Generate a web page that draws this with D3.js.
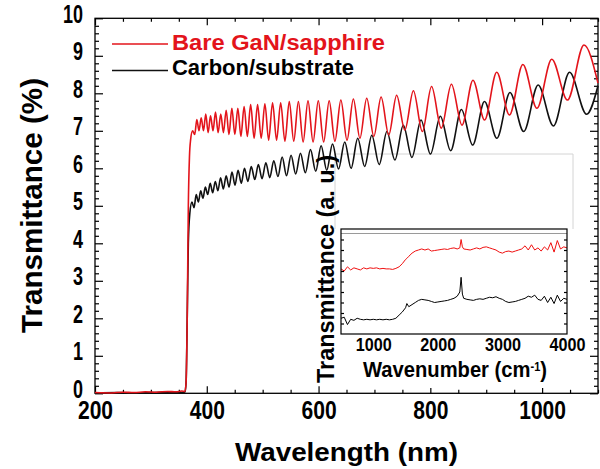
<!DOCTYPE html>
<html><head><meta charset="utf-8">
<script src="https://cdn.jsdelivr.net/npm/d3@7"></script>
<style>html,body{margin:0;padding:0;background:#fff;}svg{display:block;}text{font-family:"Liberation Sans",Arial,sans-serif;font-weight:bold;}</style>
</head><body>
<script>
// ---------- data ----------
const redWl = [200,230,250,270,290,310,330,345,355,361,363,365,367,369,371,
 374.6,378.4,382.2,386.1,390.0,394.1,398.2,402.4,406.7,411.2,415.6,420.3,425.0,429.8,434.7,439.7,444.9,450.2,455.6,461.1,
 466.8,472.6,478.5,484.7,490.9,497.4,504.0,510.7,517.7,524.9,532.2,539.8,547.6,555.6,563.9,572.4,581.1,590.2,599.5,609.1,
 619.0,629.3,639.9,650.9,662.3,674.0,686.2,698.9,711.9,725.6,739.7,754.4,769.7,785.7,802.2,819.6,837.7,856.6,876.3,897.1,
 918.8,941.6,965.5,990.8,1017.3,1045.4,1074.9,1100];
const redT = [0.02,0.01,0.03,0.02,0.04,0.03,0.05,0.04,0.06,0.05,0.3,2.0,5.0,6.3,6.75,
 7.0,6.9,7.3,7.0,7.35,7.0,7.45,6.95,7.4,7.0,7.5,6.95,7.45,6.95,7.55,6.9,7.6,6.9,7.6,6.85,
 7.65,6.85,7.7,6.8,7.7,6.8,7.72,6.75,7.75,6.75,7.75,6.72,7.78,6.72,7.78,6.7,7.8,6.7,7.8,6.7,
 7.8,6.72,7.82,6.75,7.85,6.8,7.87,6.85,7.9,6.89,7.95,7.02,8.07,6.98,8.18,7.07,8.24,7.15,8.35,7.29,
 8.56,7.42,8.77,7.6,8.91,7.82,9.29,8.27];

const blackWl = [200,240,280,320,350,361,363,365,367,
 369.7,373.4,377.2,381.1,385.0,389.1,393.2,397.4,401.7,406.1,410.6,415.2,419.9,424.7,429.6,434.7,439.8,445.1,450.5,456.0,
 461.7,467.5,473.5,479.6,485.9,492.3,498.9,505.7,512.7,519.9,527.3,534.9,542.7,550.8,559.1,567.6,576.4,585.5,594.9,604.6,
 614.6,625.0,635.7,646.8,658.2,670.1,682.5,695.3,708.5,722.3,736.6,751.6,767.1,783.3,800.2,817.9,836.3,855.6,875.7,896.9,
 919.1,942.5,967.0,992.9,1020.2,1049.1,1079.6,1100];
const blackT = [0.01,0.02,0.01,0.03,0.02,0.03,0.3,2.0,4.0,
 4.8,5.1,4.95,5.3,5.1,5.4,5.2,5.5,5.3,5.6,5.35,5.65,5.4,5.75,5.45,5.8,5.5,5.9,5.55,5.95,
 5.6,6.0,5.65,6.05,5.7,6.1,5.72,6.15,5.75,6.2,5.78,6.3,5.8,6.35,5.85,6.4,5.88,6.5,5.92,6.6,
 5.95,6.65,5.98,6.7,6.0,6.8,6.05,6.88,6.1,6.98,6.22,7.15,6.29,7.29,6.38,7.39,6.47,7.57,6.62,7.78,
 6.8,8.02,6.98,8.22,7.13,8.56,7.44,8.2];

const seriesNames = ["Bare GaN/sapphire","Carbon/substrate"];
const xTicks = [200,400,600,800,1000];
const yTicks = [0,1,2,3,4,5,6,7,8,9,10];

// inset (FTIR) data, arbitrary units
const insetWn = [500,550,600,650,700,750,800,850,900,950,1000,1050,1100,1150,1200,1250,1300,1350,1400,1450,1500,1520,1550,1600,1650,1700,1750,1800,1850,1900,1950,2000,2050,2100,2150,2200,2250,2300,2340,2360,2380,2400,2450,2500,2550,2600,2650,2700,2750,2800,2850,2900,2950,3000,3050,3100,3150,3200,3250,3300,3350,3400,3450,3500,3550,3600,3650,3700,3750,3800,3850,3900,3950,4000];
const insetRed = [6.2,6.0,6.4,6.1,6.3,6.2,6.1,6.3,6.2,6.3,6.25,6.3,6.2,6.25,6.2,6.2,6.15,6.25,6.4,6.7,7.1,7.2,7.4,7.7,7.9,8.0,8.1,8.0,8.1,7.9,7.95,8.0,8.05,8.1,8.05,8.15,8.2,8.1,8.2,9.0,8.3,8.1,8.05,8.0,8.1,8.2,8.1,8.25,8.3,8.2,8.1,8.0,7.8,7.7,7.85,7.9,7.8,7.9,8.0,8.1,8.4,8.0,8.5,8.0,8.2,7.9,8.3,8.0,8.7,7.8,8.9,8.1,8.3,8.2];
const insetBlack = [1.5,1.6,0.9,1.4,1.3,1.5,1.4,1.35,1.4,1.35,1.4,1.35,1.4,1.35,1.4,1.35,1.4,1.5,1.8,2.1,2.5,2.9,2.6,2.8,3.0,3.2,3.3,3.25,3.2,3.1,3.0,3.05,3.1,3.15,3.2,3.3,3.4,3.6,4.0,5.4,3.8,3.4,3.3,3.25,3.2,3.3,3.35,3.3,3.4,3.5,3.45,3.55,3.4,3.3,3.1,3.0,3.05,3.1,3.2,3.3,3.4,3.6,3.5,3.7,3.3,3.2,3.6,3.0,3.5,2.9,3.7,3.1,3.4,3.3];
const insetXTicks = [1000,2000,3000,4000];

// ---------- drawing ----------
const W = 600, H = 469;
const RED = "#e3141b", BLACK = "#111";
const fmt = d3.format("d");
const svg = d3.select("body").append("svg").attr("width", W).attr("height", H);

const x = d3.scaleLinear().domain([200, 1100]).range([95, 598]);
const y = d3.scaleLinear().domain([0, 10]).range([393.3, 18.3]);

const xMinor = d3.range(200, 1101, 50).filter(v => !xTicks.includes(v));
const yMinor = d3.range(0, 10.01, 0.2).map(v => +v.toFixed(1)).filter(v => !yTicks.includes(v));

function styleAxis(g) {
  g.select(".domain").remove();
  g.selectAll(".tick line").attr("stroke", "#000").attr("stroke-width", 1.2);
}
// bottom
svg.append("g").attr("transform", `translate(0,${y(0)})`)
  .call(d3.axisBottom(x).tickValues(xTicks).tickSize(-7).tickPadding(7.5).tickFormat(fmt))
  .call(styleAxis)
  .call(g => g.selectAll("text").attr("font-size", 25).attr("fill", "#000")
     .attr("textLength", d => String(d).length * 11.7).attr("lengthAdjust", "spacingAndGlyphs"));
svg.append("g").attr("transform", `translate(0,${y(0)})`)
  .call(d3.axisBottom(x).tickValues(xMinor).tickSize(-3.5).tickFormat(""))
  .call(styleAxis);
// top
svg.append("g").attr("transform", `translate(0,${y(10)})`)
  .call(d3.axisTop(x).tickValues(xTicks).tickSize(-7).tickFormat(""))
  .call(styleAxis);
svg.append("g").attr("transform", `translate(0,${y(10)})`)
  .call(d3.axisTop(x).tickValues(xMinor).tickSize(-3.5).tickFormat(""))
  .call(styleAxis);
// left
svg.append("g").attr("transform", `translate(${x(200)},0)`)
  .call(d3.axisLeft(y).tickValues(yTicks).tickSize(-8).tickPadding(12).tickFormat(fmt))
  .call(styleAxis)
  .call(g => g.selectAll("text").attr("font-size", 25).attr("fill", "#000").attr("dy", "0.15em")
     .attr("textLength", d => String(d).length * 10).attr("lengthAdjust", "spacingAndGlyphs"));
svg.append("g").attr("transform", `translate(${x(200)},0)`)
  .call(d3.axisLeft(y).tickValues(yMinor).tickSize(-4).tickFormat(""))
  .call(styleAxis);
// right
svg.append("g").attr("transform", `translate(${x(1100)},0)`)
  .call(d3.axisRight(y).tickValues(yTicks).tickSize(-8).tickFormat(""))
  .call(styleAxis);
svg.append("g").attr("transform", `translate(${x(1100)},0)`)
  .call(d3.axisRight(y).tickValues(yMinor).tickSize(-4).tickFormat(""))
  .call(styleAxis);

// frame
svg.append("rect").attr("x", x(200)).attr("y", y(10))
  .attr("width", x(1100) - x(200)).attr("height", y(0) - y(10))
  .attr("fill", "none").attr("stroke", "#000").attr("stroke-width", 1.3);

// axis titles
svg.append("text").attr("x", 346.5).attr("y", 461).attr("text-anchor", "middle")
  .attr("font-size", 26).attr("textLength", 223).attr("lengthAdjust", "spacingAndGlyphs")
  .text("Wavelength (nm)");
svg.append("text").attr("transform", "translate(41.5,205.5) rotate(-90)").attr("text-anchor", "middle")
  .attr("font-size", 30).attr("textLength", 255).attr("lengthAdjust", "spacingAndGlyphs")
  .text("Transmittance (%)");

// inset white panel (behind the curves)
const xi = d3.scaleLinear().domain([500, 4000]).range([341, 567]);
const yi = d3.scaleLinear().domain([0, 10]).range([334, 229]);
svg.append("rect").attr("x", 335).attr("y", 154).attr("width", 238).attr("height", 234).attr("fill", "#fff");
svg.append("path").attr("d", d3.line()([[335, 229], [335, 154], [573, 154], [573, 229]]))
  .attr("fill", "none").attr("stroke", "#d4d4d4").attr("stroke-width", 1);

// main curves
const line = d3.line().x(d => x(d[0])).y(d => y(d[1])).curve(d3.curveMonotoneX);
svg.append("path").datum(blackWl.map((w, i) => [w, blackT[i]]))
  .attr("d", line).attr("fill", "none").attr("stroke", BLACK).attr("stroke-width", 1.6);
svg.append("path").datum(redWl.map((w, i) => [w, redT[i]]))
  .attr("d", line).attr("fill", "none").attr("stroke", RED).attr("stroke-width", 1.6);

// legend
const legY = [44, 70.5], legBase = [49.5, 75];
seriesNames.forEach((n, i) => {
  const c = i === 0 ? RED : BLACK;
  svg.append("line").attr("x1", 112).attr("x2", 168).attr("y1", legY[i]).attr("y2", legY[i])
    .attr("stroke", c).attr("stroke-width", 1.6);
  svg.append("text").attr("x", 172).attr("y", legBase[i]).attr("fill", i === 0 ? RED : "#000")
    .attr("font-size", 22).attr("textLength", i === 0 ? 213 : 182).attr("lengthAdjust", "spacingAndGlyphs")
    .text(n);
});

// ---------- inset ----------
const ins = svg.append("g");
ins.append("rect").attr("x", 341).attr("y", 229).attr("width", 226).attr("height", 105).attr("fill", "#fff");
const iline = d3.line().x(d => xi(d[0])).y(d => yi(d[1]));
ins.append("path").datum(insetWn.map((w, i) => [w, insetRed[i]]))
  .attr("d", iline).attr("fill", "none").attr("stroke", "#f01010").attr("stroke-width", 1);
ins.append("path").datum(insetWn.map((w, i) => [w, insetBlack[i]]))
  .attr("d", iline).attr("fill", "none").attr("stroke", "#000").attr("stroke-width", 1);
ins.append("g").attr("transform", "translate(341,0)")
  .call(d3.axisLeft(yi).tickValues(d3.range(1, 10, 1)).tickSize(-3).tickFormat(""))
  .call(styleAxis);
ins.append("g").attr("transform", "translate(567,0)")
  .call(d3.axisRight(yi).tickValues(d3.range(1, 10, 1)).tickSize(-3).tickFormat(""))
  .call(styleAxis);
ins.append("g").attr("transform", "translate(0,334)")
  .call(d3.axisBottom(xi).tickValues(insetXTicks).tickSize(0).tickPadding(4).tickFormat(fmt))
  .call(styleAxis)
  .call(g => g.selectAll("text").attr("font-size", 19).attr("fill", "#000")
     .attr("textLength", 36).attr("lengthAdjust", "spacingAndGlyphs"));
ins.append("line").attr("x1", 341).attr("x2", 567).attr("y1", 233.5).attr("y2", 233.5)
  .attr("stroke", "#9a9a9a").attr("stroke-width", 1);
ins.append("rect").attr("x", 341).attr("y", 229).attr("width", 226).attr("height", 105)
  .attr("fill", "none").attr("stroke", "#000").attr("stroke-width", 1.2);
const wl = ins.append("text").attr("x", 455).attr("y", 377).attr("text-anchor", "middle")
  .attr("font-size", 22).attr("textLength", 184).attr("lengthAdjust", "spacingAndGlyphs");
wl.append("tspan").text("Wavenumber (cm");
wl.append("tspan").attr("dy", -6).attr("font-size", 12).text("-1");
wl.append("tspan").attr("dy", 6).text(")");
ins.append("text").attr("transform", "translate(334,269) rotate(-90)").attr("text-anchor", "middle")
  .attr("font-size", 23).attr("textLength", 228).attr("lengthAdjust", "spacingAndGlyphs")
  .text("Transmittance (a. u.)");
</script>
</body></html>
